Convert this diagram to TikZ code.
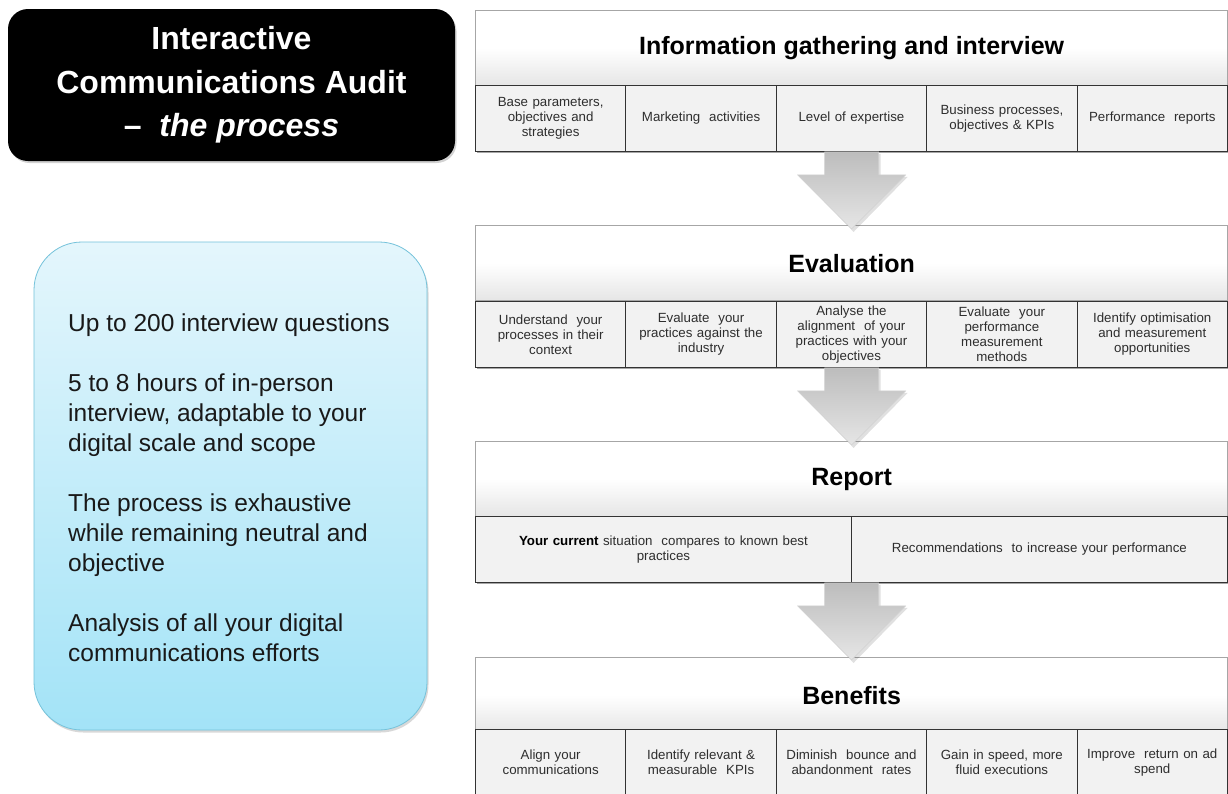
\documentclass[tikz,border=0pt]{standalone}
\usepackage{fontspec}
\setmainfont{Liberation Sans}
\usetikzlibrary{shadows}
\definecolor{cellfill}{HTML}{F2F2F2}
\definecolor{celltext}{HTML}{2E2E2E}
\definecolor{cellline}{HTML}{333333}
\definecolor{hdrline}{HTML}{A6A6A6}
\definecolor{bluetop}{HTML}{E4F6FC}
\definecolor{bluebot}{HTML}{A3E3F7}
\definecolor{blueline}{HTML}{74C2DA}
\tikzset{
  hdr/.style={draw=hdrline, line width=1.2pt, top color=white, bottom color=black!10, middle color=white,
    minimum width=752pt, minimum height=75pt, anchor=north west, inner sep=0pt,
    font=\fontsize{25}{29}\selectfont\bfseries, text=black,
    drop shadow={opacity=0.25, shadow xshift=1.5pt, shadow yshift=-1.5pt}},
  cellbox/.style={draw=cellline, line width=0.9pt, fill=cellfill, anchor=north west,
    minimum width=150.4pt, minimum height=66pt, inner sep=0pt, text width=146pt, align=center,
    font=\fontsize{13.3}{15}\selectfont, text=celltext},
  widecell/.style={cellbox, minimum width=376pt, text width=340pt},
  rowshadow/.style={fill=black, opacity=0.35},
  arrowpic/.pic={
    \fill[black, opacity=0.12] (-25,2) -- (29,2) -- (29,25) -- (56,25) -- (2,80) -- (-52,25) -- (-25,25) -- cycle;
    \shade[top color=black!26, bottom color=black!10, draw=black!18, line width=0.4pt]
      (-27,0) -- (27,0) -- (27,23) -- (54,23) -- (0,77) -- (-54,23) -- (-27,23) -- cycle;
  }
}
\begin{document}
\begin{tikzpicture}[x=1pt,y=-1pt]
\clip (0,0) rectangle (1228,793);
\fill[white] (0,0) rectangle (1228,793);

% title panel
\node[fill=black, rounded corners=20pt, minimum width=447pt, minimum height=152pt, inner sep=0pt,
  drop shadow={opacity=0.35, shadow xshift=1.5pt, shadow yshift=-2pt},
  text=white, align=center, font=\fontsize{32}{43.5}\selectfont\bfseries]
  (title) at (231.5,85) {Interactive\\Communications Audit\\–\ \ \textit{the process}};

% key facts panel
\node[draw=blueline, line width=0.8pt, top color=bluetop, bottom color=bluebot, rounded corners=48pt,
  minimum width=393pt, minimum height=488pt, inner sep=0pt,
  drop shadow={opacity=0.3, shadow xshift=1.5pt, shadow yshift=-2.5pt}]
  (facts) at (230.5,486) {};
\node[anchor=west, align=left, inner sep=0pt, font=\fontsize{24.5}{30}\selectfont, text=black!90]
  (factstext) at (68,488) {Up to 200 interview questions\\[30pt]
  5 to 8 hours of in-person\\interview, adaptable to your\\digital scale and scope\\[30pt]
  The process is exhaustive\\while remaining neutral and\\objective\\[30pt]
  Analysis of all your digital\\communications efforts};

% stage 1: information gathering
\node[hdr] (h1) at (475,10) {Information gathering and interview};
\fill[rowshadow] (477,87) rectangle (1229,153);
\node[cellbox] (c11) at (475,85) {Base parameters,\\objectives and\\strategies};
\node[cellbox] (c12) at (625.4,85) {Marketing\ \ activities};
\node[cellbox] (c13) at (775.8,85) {Level of expertise};
\node[cellbox] (c14) at (926.2,85) {Business processes,\\objectives \& KPIs};
\node[cellbox] (c15) at (1076.6,85) {Performance\ \ reports};

% stage 2: evaluation
\node[hdr] (h2) at (475,225) {Evaluation};
\fill[rowshadow] (477,303) rectangle (1229,369);
\node[cellbox] (c21) at (475,301) {Understand\ \ your\\processes in their\\context};
\node[cellbox] (c22) at (625.4,301) {Evaluate\ \ your\\practices against the\\industry};
\node[cellbox] (c23) at (775.8,301) {Analyse the\\alignment\ \ of your\\practices with your\\objectives};
\node[cellbox] (c24) at (926.2,301) {Evaluate\ \ your\\performance\\measurement\\methods};
\node[cellbox] (c25) at (1076.6,301) {Identify optimisation\\and measurement\\opportunities};

% stage 3: report
\node[hdr] (h3) at (475,441) {Report};
\fill[rowshadow] (477,518) rectangle (1229,584);
\node[widecell] (c31) at (475,516) {\textbf{\color{black}Your current} situation\ \ compares to known best\\practices};
\node[widecell] (c32) at (851,516) {Recommendations\ \ to increase your performance};

% stage 4: benefits
\node[hdr] (h4) at (475,657) {Benefits};
\node[cellbox] (c41) at (475,729) {Align your\\communications};
\node[cellbox] (c42) at (625.4,729) {Identify relevant \&\\measurable\ \ KPIs};
\node[cellbox] (c43) at (775.8,729) {Diminish\ \ bounce and\\abandonment\ \ rates};
\node[cellbox] (c44) at (926.2,729) {Gain in speed, more\\fluid executions};
\node[cellbox] (c45) at (1076.6,729) {Improve\ \ return on ad\\spend};

% flow arrows between the stages
\pic at (h1.south |- c13.south) {arrowpic};
\pic at (h2.south |- c23.south) {arrowpic};
\pic at (h3.south |- c31.south) {arrowpic};
\end{tikzpicture}
\end{document}
